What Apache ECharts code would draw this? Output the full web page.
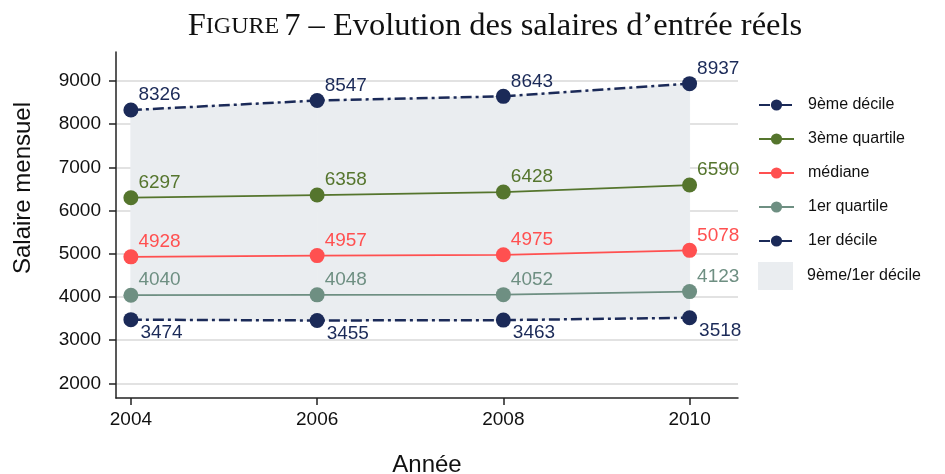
<!DOCTYPE html>
<html>
<head>
<meta charset="utf-8">
<script src="https://cdn.jsdelivr.net/npm/echarts@6/dist/echarts.min.js"></script>
<style>
  html, body { margin: 0; padding: 0; background: #fff; }
  #chart { width: 945px; height: 474px; }
</style>
</head>
<body>
<div id="chart"></div>
<script>
// data
const years = [2004, 2006, 2008, 2010];
const p90 = [8326, 8547, 8643, 8937];
const q3 = [6297, 6358, 6428, 6590];
const median = [4928, 4957, 4975, 5078];
const q1 = [4040, 4048, 4052, 4123];
const p10 = [3474, 3455, 3463, 3518];
const yTicks = [2000, 3000, 4000, 5000, 6000, 7000, 8000, 9000];

const NAVY = '#1b2a58';
const GREEN = '#55752d';
const RED = '#ff5050';
const GREY = '#6e8f82';
const BAND = '#eaedf0';
const FONT = 'Liberation Sans';

const pairs = vals => years.map((y, i) => [y, vals[i]]);

function lineSeries(name, vals, color, dashed, below) {
  return {
    name: name,
    type: 'line',
    data: pairs(vals),
    symbol: 'circle',
    symbolSize: 15,
    z: 5,
    itemStyle: { color: color },
    lineStyle: { color: color, width: dashed ? 2.5 : 1.8, type: dashed ? [11, 4, 3, 4] : 'solid' },
    label: {
      show: true,
      position: 'right',
      distance: 0,
      offset: below ? [2, 13] : [0, -15],
      formatter: p => String(p.value[1]),
      color: color,
      fontFamily: FONT,
      fontSize: 19
    },
    emphasis: { disabled: true }
  };
}

const chart = echarts.init(document.getElementById('chart'), null, { renderer: 'canvas' });

chart.setOption({
  animation: false,
  backgroundColor: '#fff',
  title: {
    text: '{a|F}{b|IGURE} {a|7 – Evolution des salaires d’entrée réels}',
    left: 490,
    textAlign: 'center',
    top: 5,
    textStyle: {
      rich: {
        a: { fontFamily: 'Liberation Serif', fontWeight: 'normal', fontSize: 32.5, color: '#111' },
        b: { fontFamily: 'Liberation Serif', fontWeight: 'normal', fontSize: 24, color: '#111' }
      }
    }
  },
  grid: { left: 116, right: 207, top: 52, bottom: 76, outerBoundsMode: 'none' },
  xAxis: {
    type: 'value',
    min: 2003.84,
    max: 2010.52,
    name: 'Année',
    nameLocation: 'middle',
    nameGap: 55,
    nameTextStyle: { fontFamily: FONT, fontSize: 24, color: '#111' },
    axisLine: { show: true, lineStyle: { color: '#222', width: 1.5 } },
    axisTick: { show: true, length: 7, customValues: years, lineStyle: { color: '#222', width: 1.5 } },
    axisLabel: { customValues: years, formatter: v => String(v), fontFamily: FONT, fontSize: 19, color: '#111', margin: 12 },
    splitLine: { show: false }
  },
  yAxis: {
    type: 'value',
    min: 1660,
    max: 9670,
    axisLine: { show: true, lineStyle: { color: '#222', width: 1.5 } },
    axisTick: { show: true, length: 7, customValues: yTicks, lineStyle: { color: '#222', width: 1.5 } },
    axisLabel: { customValues: yTicks, formatter: v => String(v), fontFamily: FONT, fontSize: 19, color: '#111', margin: 15 },
    splitLine: { show: true, customValues: yTicks, lineStyle: { color: '#d8d8d8', width: 1.5 } }
  },
  legend: {
    orient: 'vertical',
    left: 758,
    top: 97,
    padding: 0,
    itemWidth: 35,
    itemHeight: 14,
    itemGap: 18,
    selectedMode: false,
    textStyle: { fontFamily: FONT, fontSize: 16, lineHeight: 14, color: '#111', padding: [0, 0, 0, 9] },
    data: ['9ème décile', '3ème quartile', 'médiane', '1er quartile', '1er décile']
  },
  graphic: [
    {
      type: 'text', x: 23, y: 188, rotation: Math.PI / 2,
      style: { text: 'Salaire mensuel', font: '24px "Liberation Sans"', fill: '#111', align: 'center', verticalAlign: 'middle' }
    },
    { type: 'rect', left: 758, top: 262, shape: { width: 35, height: 28 }, style: { fill: BAND } },
    { type: 'text', left: 807, top: 268, style: { text: '9ème/1er décile', font: '16px "Liberation Sans"', fill: '#111' } }
  ],
  series: [
    {
      name: '9ème/1er décile',
      type: 'custom',
      data: years.map((y, i) => [y, p10[i], p90[i]]),
      z: 1,
      silent: true,
      renderItem: function (params, api) {
        const i = params.dataIndex;
        if (i >= years.length - 1) return null;
        const a = api.coord([years[i], p10[i]]);
        const b = api.coord([years[i + 1], p10[i + 1]]);
        const c = api.coord([years[i + 1], p90[i + 1]]);
        const d = api.coord([years[i], p90[i]]);
        return { type: 'polygon', shape: { points: [a, b, c, d] }, style: { fill: BAND, stroke: BAND, lineWidth: 1 } };
      }
    },
    lineSeries('9ème décile', p90, NAVY, true, false),
    lineSeries('3ème quartile', q3, GREEN, false, false),
    lineSeries('médiane', median, RED, false, false),
    lineSeries('1er quartile', q1, GREY, false, false),
    lineSeries('1er décile', p10, NAVY, true, true)
  ]
});
</script>
</body>
</html>
